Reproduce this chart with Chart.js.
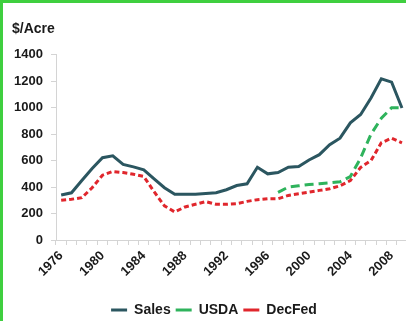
<!DOCTYPE html>
<html>
<head>
<meta charset="utf-8">
<script src="https://cdn.jsdelivr.net/npm/chart.js@4/dist/chart.umd.min.js"></script>
<style>
  html, body { margin: 0; padding: 0; background: #fff; }
  body { width: 406px; height: 321px; overflow: hidden; }
  .frame {
    width: 403px; height: 318px; overflow: hidden;
    border-left: 3px solid #3fcf3f; border-top: 3px solid #3fcf3f;
  }
  .wrap { width: 413px; height: 324px; position: relative; }
</style>
</head>
<body>
<div class="frame"><div class="wrap"><canvas id="landChart"></canvas></div></div>
<script>
// land values, $/acre
const years = [];
for (let y = 1976; y <= 2009; y++) years.push(String(y));

const salesValues = [340, 357, 450, 540, 622, 636, 572, 553, 531, 462, 395, 345,
  345, 345, 352, 358, 380, 412, 425, 550, 500, 510, 550, 555,
  605, 645, 720, 770, 886, 949, 1073, 1218, 1193, 998];

const usdaValues = [null, null, null, null, null, null, null, null, null, null, null, null,
  null, null, null, null, null, null, null, null, null, 360, 400, 410,
  420, 425, 432, 440, 480, 620, 800, 920, 1000, 1000];

const decFedValues = [300, 308, 320, 395, 490, 518, 510, 497, 480, 365, 258, 212,
  250, 270, 290, 270, 270, 275, 292, 305, 312, 312, 337, 350,
  362, 375, 387, 410, 449, 549, 600, 735, 770, 735];

const yTicks = [0, 200, 400, 600, 800, 1000, 1200, 1400];

const axisGray = "#d4d4d4";
const textColor = "#1a1a1a";
const fontFamily = "'Liberation Sans', Arial, sans-serif";

const ctx = document.getElementById("landChart").getContext("2d");
new Chart(ctx, {
  type: "line",
  data: {
    labels: years,
    datasets: [
      {
        label: "Sales",
        data: salesValues,
        borderColor: "#2b5660",
        borderWidth: 3,
        pointRadius: 0,
        tension: 0
      },
      {
        label: "USDA",
        data: usdaValues,
        borderColor: "#2fb35c",
        borderWidth: 3,
        borderDash: [9, 5],
        pointRadius: 0,
        tension: 0
      },
      {
        label: "DecFed",
        data: decFedValues,
        borderColor: "#e0262c",
        borderWidth: 3,
        borderDash: [5, 3],
        pointRadius: 0,
        tension: 0
      }
    ]
  },
  options: {
    responsive: true,
    maintainAspectRatio: false,
    animation: false,
    layout: { padding: { left: 9, right: 0, top: 0, bottom: 0 } },
    plugins: {
      title: {
        display: true,
        text: "$/Acre",
        align: "start",
        color: textColor,
        font: { family: fontFamily, size: 14, weight: "bold" },
        padding: { top: 18, bottom: 17 }
      },
      legend: {
        position: "bottom",
        labels: {
          color: textColor,
          font: { family: fontFamily, size: 14, weight: "bold" },
          usePointStyle: true,
          pointStyle: "line",
          pointStyleWidth: 16,
          boxHeight: 3,
          padding: 5
        }
      },
      tooltip: { enabled: false }
    },
    scales: {
      x: {
        offset: true,
        afterFit: function (scale) { scale.height = 58; },
        border: { color: axisGray, width: 1 },
        grid: { display: true, drawOnChartArea: false, offset: true, color: axisGray, tickLength: 5 },
        ticks: {
          autoSkip: false,
          minRotation: 45,
          maxRotation: 45,
          color: textColor,
          font: { family: fontFamily, size: 13, weight: "bold" },
          callback: function (val, idx) {
            const yr = Number(years[idx]);
            return (yr - 1976) % 4 === 0 ? years[idx] : "";
          }
        }
      },
      y: {
        min: 0,
        max: 1400,
        afterFit: function (scale) { scale.width = 44; },
        afterBuildTicks: function (scale) {
          scale.ticks = yTicks.map(v => ({ value: v }));
        },
        border: { color: axisGray, width: 1 },
        grid: { display: true, drawOnChartArea: false, color: axisGray, tickLength: 5 },
        ticks: {
          color: textColor,
          padding: 8,
          font: { family: fontFamily, size: 13, weight: "bold" },
          callback: function (v) { return String(v); }
        }
      }
    }
  }
});
</script>
</body>
</html>
